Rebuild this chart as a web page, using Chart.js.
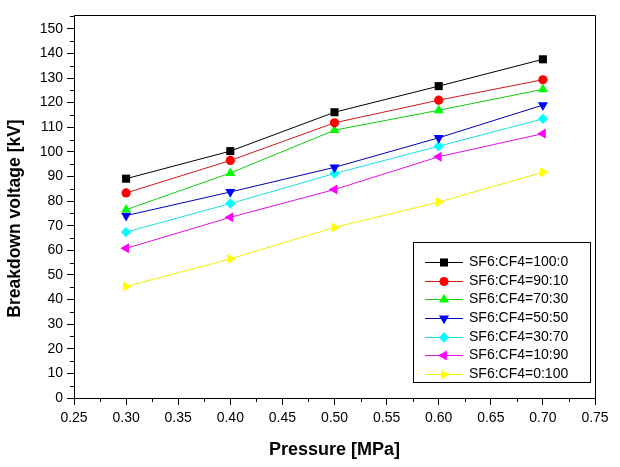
<!DOCTYPE html>
<html>
<head>
<meta charset="utf-8">
<title>Breakdown voltage vs pressure</title>
<script src="https://cdn.jsdelivr.net/npm/chart.js@4.4.1/dist/chart.umd.min.js"></script>
<style>
    html, body { margin: 0; padding: 0; background: #fff; }
    #wrap { width: 620px; height: 467px; }
</style>
</head>
<body>
<div id="wrap"><canvas id="bdvChart" width="620" height="467"></canvas></div>
<script>
// Data
const pressure = [0.30, 0.40, 0.50, 0.60, 0.70];
const mixNames = ['SF6:CF4=100:0', 'SF6:CF4=90:10', 'SF6:CF4=70:30', 'SF6:CF4=50:50',
                  'SF6:CF4=30:70', 'SF6:CF4=10:90', 'SF6:CF4=0:100'];
const mix100_0 = [89.1, 100.3, 116.1, 126.7, 137.6];
const mix90_10 = [83.3, 96.5, 111.8, 121.0, 129.3];
const mix70_30 = [76.5, 91.4, 108.8, 116.9, 125.4];
const mix50_50 = [74.1, 83.7, 93.7, 105.7, 119.0];
const mix30_70 = [67.4, 79.0, 91.2, 102.3, 113.4];
const mix10_90 = [60.8, 73.4, 84.7, 98.0, 107.4];
const mix0_100 = [45.3, 56.5, 69.3, 79.6, 91.7];
const xTicks = [0.25, 0.30, 0.35, 0.40, 0.45, 0.50, 0.55, 0.60, 0.65, 0.70, 0.75];
const yTicks = [0, 10, 20, 30, 40, 50, 60, 70, 80, 90, 100, 110, 120, 130, 140, 150];
const yTitle = 'Breakdown voltage [kV]';

const FONT = "'Liberation Sans', Arial, sans-serif";

// symbol / colour for each series
const styles = [
    { color: '#000000', line: '#000000', point: 'rect', radius: 5.7, rot: 0 },
    { color: '#ff0000', line: '#d01818', point: 'circle', radius: 4.6, rot: 0 },
    { color: '#00ff00', line: '#10cc10', point: 'triangle', radius: 5.8, rot: 0 },
    { color: '#0000ff', line: '#0000b4', point: 'triangle', radius: 5.8, rot: 180 },
    { color: '#00ffff', line: '#18e0e0', point: 'rectRot', radius: 5.2, rot: 0 },
    { color: '#ff00ff', line: '#e010e0', point: 'triangle', radius: 5.8, rot: 270 },
    { color: '#ffff00', line: '#f0f000', point: 'triangle', radius: 5.8, rot: 90 }
];
const allSeries = [mix100_0, mix90_10, mix70_30, mix50_50, mix30_70, mix10_90, mix0_100];

const datasets = allSeries.map((vals, i) => ({
    label: mixNames[i],
    data: vals.map((v, j) => ({ x: pressure[j], y: v })),
    borderColor: styles[i].line,
    borderWidth: 1,
    backgroundColor: styles[i].color,
    pointBackgroundColor: styles[i].color,
    pointBorderColor: styles[i].color,
    pointBorderWidth: 0,
    pointStyle: styles[i].point,
    pointRadius: styles[i].radius,
    pointRotation: styles[i].rot,
    pointHoverRadius: styles[i].radius,
    tension: 0,
    fill: false
}));

// frame, minor ticks, y title and the boxed legend
const framePlugin = {
    id: 'frame',
    afterDraw(chart) {
        const ctx = chart.ctx;
        const a = chart.chartArea;
        const xs = chart.scales.x;
        const ys = chart.scales.y;
        ctx.save();
        ctx.strokeStyle = '#000';
        ctx.lineWidth = 1;
        ctx.beginPath();
        ctx.rect(Math.round(a.left) + 0.5, Math.round(a.top) + 0.5,
                 Math.round(a.right - a.left), Math.round(a.bottom - a.top));
        ctx.stroke();

        // minor ticks
        ctx.beginPath();
        for (let i = 0; i < xTicks.length - 1; i++) {
            const px = Math.round(xs.getPixelForValue((xTicks[i] + xTicks[i + 1]) / 2)) + 0.5;
            ctx.moveTo(px, a.bottom);
            ctx.lineTo(px, a.bottom + 4);
        }
        for (let i = 0; i < yTicks.length; i++) {
            const v = yTicks[i] + 5;
            if (v > ys.max) break;
            const py = Math.round(ys.getPixelForValue(v)) + 0.5;
            ctx.moveTo(a.left, py);
            ctx.lineTo(a.left - 4, py);
        }
        ctx.stroke();

        // y axis title (sits a little below the middle in the original)
        ctx.save();
        ctx.translate(15, (a.top + a.bottom) / 2 + 12);
        ctx.rotate(-Math.PI / 2);
        ctx.font = 'bold 17.5px ' + FONT;
        ctx.fillStyle = '#000';
        ctx.textAlign = 'center';
        ctx.textBaseline = 'middle';
        ctx.fillText(yTitle, 0, 0);
        ctx.restore();

        // legend box
        const bx = Math.round(a.right) - 182, by = Math.round(a.bottom) - 156;
        const bw = 177, bh = 140;
        ctx.fillStyle = '#fff';
        ctx.fillRect(bx, by, bw, bh);
        ctx.strokeRect(bx + 0.5, by + 0.5, bw, bh);
        ctx.font = '14px ' + FONT;
        ctx.textBaseline = 'middle';
        chart.data.datasets.forEach((ds, i) => {
            const cy = Math.round(by + 20 + i * 18.67) + 0.5;
            ctx.strokeStyle = ds.borderColor;
            ctx.beginPath();
            ctx.moveTo(bx + 12, cy);
            ctx.lineTo(bx + 50, cy);
            ctx.stroke();
            ctx.fillStyle = ds.pointBackgroundColor;
            Chart.helpers.drawPoint(ctx, {
                pointStyle: ds.pointStyle,
                radius: ds.pointRadius,
                rotation: ds.pointRotation,
                borderWidth: 0
            }, bx + 31, cy);
            ctx.fillStyle = '#000';
            ctx.fillText(ds.label, bx + 56, cy);
        });
        ctx.restore();
    }
};

new Chart(document.getElementById('bdvChart').getContext('2d'), {
    type: 'line',
    data: { datasets: datasets },
    options: {
        responsive: false,
        animation: false,
        layout: { padding: { top: 15, right: 25, left: 0, bottom: 0 } },
        plugins: {
            legend: { display: false },
            tooltip: { enabled: false }
        },
        scales: {
            x: {
                type: 'linear',
                min: 0.25,
                max: 0.75,
                afterBuildTicks: scale => { scale.ticks = xTicks.map(v => ({ value: v })); },
                afterFit: scale => { scale.height = 69; },
                ticks: {
                    color: '#000',
                    font: { family: FONT, size: 14 },
                    padding: 5,
                    maxRotation: 0,
                    callback: v => v.toFixed(2)
                },
                grid: { drawOnChartArea: false, drawTicks: true, tickLength: 7, color: '#000' },
                border: { display: true, color: '#000' },
                title: {
                    display: true,
                    text: 'Pressure [MPa]',
                    color: '#000',
                    font: { family: FONT, size: 18, weight: 'bold' },
                    padding: { top: 0, bottom: 6 }
                }
            },
            y: {
                min: 0,
                max: 155.6,
                afterBuildTicks: scale => { scale.ticks = yTicks.map(v => ({ value: v })); },
                afterFit: scale => { scale.width = 74; },
                ticks: {
                    color: '#000',
                    font: { family: FONT, size: 14 },
                    padding: 4
                },
                grid: { drawOnChartArea: false, drawTicks: true, tickLength: 7, color: '#000' },
                border: { display: true, color: '#000' }
            }
        }
    },
    plugins: [framePlugin]
});
</script>
</body>
</html>
